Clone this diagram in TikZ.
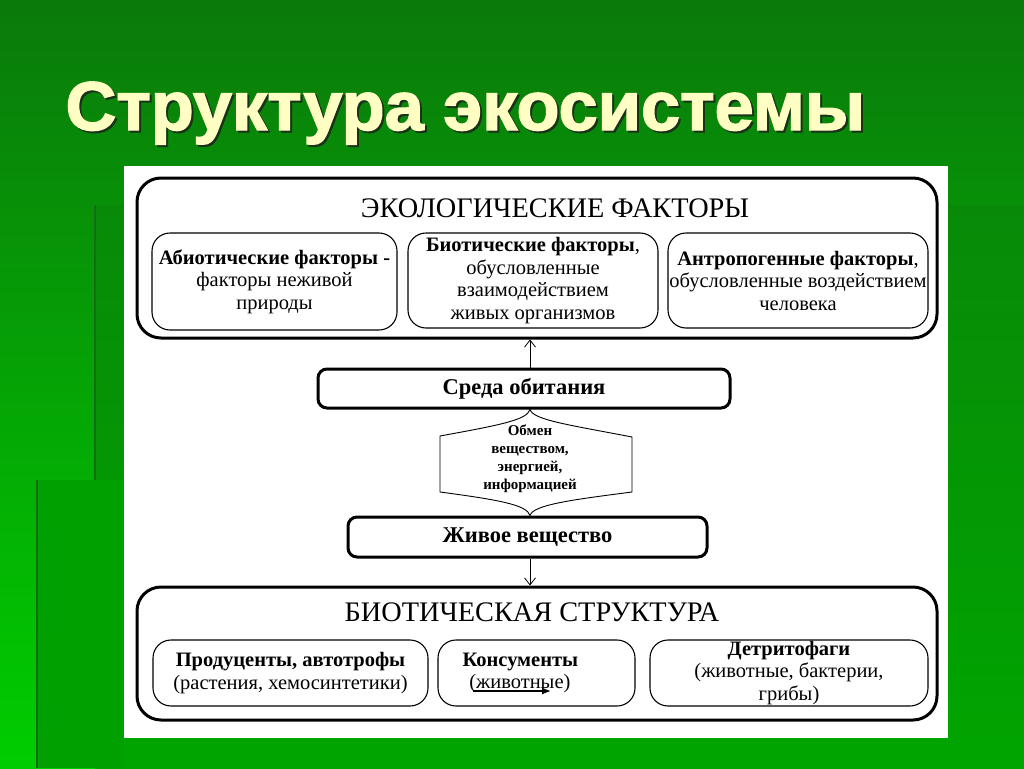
\documentclass[tikz,border=0pt]{standalone}
\usepackage{fontspec}
\setmainfont{Liberation Serif}
\newfontfamily\titlefont[FakeStretch=1.02,BoldFeatures={FakeBold=2}]{Liberation Sans}
\usetikzlibrary{calc,arrows.meta}
\definecolor{bgtop}{RGB}{10,122,10}
\definecolor{bgbottom}{RGB}{0,205,0}
\definecolor{bgpanel}{RGB}{8,138,8}
\definecolor{bgpanellow}{RGB}{0,165,0}
\definecolor{bgstrip}{RGB}{0,160,0}
\definecolor{bgline}{RGB}{20,110,20}
\definecolor{titleyellow}{RGB}{255,255,196}
\definecolor{titleshadow}{RGB}{25,50,25}
\tikzset{
  outerbox/.style={draw, line width=3pt, rounded corners=24pt, minimum width=800pt, inner sep=0pt},
  innerbox/.style={draw, line width=1.1pt, rounded corners=18pt, inner sep=0pt, align=center,
    font=\fontsize{20.5}{22.5}\selectfont},
  stagebox/.style={draw, line width=3pt, rounded corners=9pt, inner sep=0pt,
    font=\fontsize{22.5}{26}\selectfont\bfseries},
  heading/.style={font=\fontsize{28.3}{32}\selectfont},
  flow/.style={-{Straight Barb[length=7pt,width=11pt]}, line width=0.8pt},
  pointer/.style={-{Latex[length=9pt,width=7pt]}, line width=1.3pt}
}
\begin{document}
\begin{tikzpicture}[x=1pt,y=-1pt]
  \useasboundingbox (0,0) rectangle (1024,768);

  % background of the slide
  \fill[top color=bgtop, bottom color=bgbottom] (0,0) rectangle (1024,768);
  \fill[top color=bgpanel, bottom color=bgpanellow] (95,205) rectangle (1024,768);
  \fill[bgstrip] (37,480) rectangle (124,768);
  \draw[bgline, line width=1.5pt] (95,205) -- (95,480);
  \draw[bgline, line width=1.5pt] (37,480) -- (37,768);

  % title with shadow
  \node[anchor=base west, text=titleshadow, font=\titlefont\bfseries\fontsize{69}{72}\selectfont]
    (titleshade) at (64,132) {Структура экосистемы};
  \node[anchor=base west, text=titleyellow, font=\titlefont\bfseries\fontsize{69}{72}\selectfont]
    (title) at (62,130) {Структура экосистемы};

  % white sheet
  \fill[white] (124,166) rectangle (948,738);

  % ecological factors
  \node[outerbox, minimum height=160pt] (eco) at (537,258) {};
  \node[heading] (ecohead) at (555,208) {ЭКОЛОГИЧЕСКИЕ ФАКТОРЫ};
  \node[innerbox, minimum width=245pt, minimum height=97pt] (abio) at (274.5,281.5)
    {\textbf{Абиотические факторы -}\\факторы неживой\\природы};
  \node[innerbox, minimum width=250pt, minimum height=95pt] (bio) at (533,280.5)
    {\textbf{Биотические факторы},\\обусловленные\\взаимодействием\\живых организмов};
  \node[innerbox, minimum width=260pt, minimum height=95pt] (anthro) at (798,280.5)
    {\textbf{Антропогенные факторы},\\обусловленные воздействием\\человека};

  % habitat and living matter
  \node[stagebox, minimum width=412pt, minimum height=39pt] (sreda) at (524,388.5) {Среда обитания};
  \node[stagebox, minimum width=359pt, minimum height=40pt] (zhivoe) at (527.5,537) {Живое вещество};

  % exchange
  \node[align=center, font=\fontsize{15}{18}\selectfont\bfseries] (obmen) at (530,459)
    {Обмен\\веществом,\\энергией,\\информацией};
  \coordinate (T) at (obmen |- sreda.south);
  \coordinate (B) at (obmen |- zhivoe.north);
  \coordinate (L1) at (440,436);
  \coordinate (L2) at (440,492);
  \coordinate (R1) at (632,437);
  \coordinate (R2) at (632,492);
  \draw[line width=0.9pt] (T) .. controls (527,420) and (500,425) .. (L1) -- (L2)
    .. controls (500,500) and (527,505) .. (B);
  \draw[line width=0.9pt] (T) .. controls (533,420) and (570,425) .. (R1) -- (R2)
    .. controls (570,500) and (533,505) .. (B);

  \draw[flow] (obmen |- sreda.north) -- (obmen |- eco.south);

  % biotic structure
  \node[outerbox, minimum height=133pt] (biostr) at (537,653.5) {};
  \draw[flow] (obmen |- zhivoe.south) -- (obmen |- biostr.north);
  \node[heading] (biohead) at (532,612) {БИОТИЧЕСКАЯ СТРУКТУРА};
  \node[innerbox, minimum width=275pt, minimum height=66pt] (prod) at (290.5,673)
    {\textbf{Продуценты, автотрофы}\\(растения, хемосинтетики)};
  \node[innerbox, minimum width=197pt, minimum height=66pt, text width=148pt, align=left] (kons) at (536.5,673)
    {\textbf{Консументы}\\\ (животные)};
  \node[innerbox, minimum width=278pt, minimum height=66pt] (detr) at (789,673)
    {\textbf{Детритофаги}\\(животные, бактерии,\\грибы)};

  \coordinate (k1) at (473,691);
  \coordinate (k2) at (551,691);
  \draw[pointer] (k1) -- (k2);
\end{tikzpicture}
\end{document}
